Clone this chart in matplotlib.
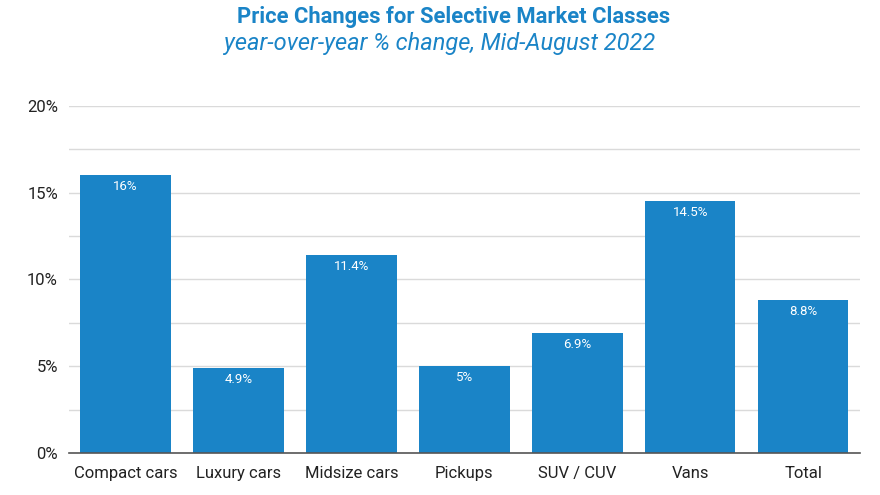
import matplotlib
matplotlib.use("Agg")
import matplotlib.pyplot as plt
from matplotlib.ticker import MultipleLocator, FuncFormatter

categories = ["Compact cars", "Luxury cars", "Midsize cars", "Pickups", "SUV / CUV", "Vans", "Total"]
values = [16, 4.9, 11.4, 5, 6.9, 14.5, 8.8]
labels = ["16%", "4.9%", "11.4%", "5%", "6.9%", "14.5%", "8.8%"]

plt.rcParams['font.family'] = ['Roboto', 'DejaVu Sans']
blue = "#1a84c7"

fig = plt.figure(figsize=(8.8, 4.95), dpi=100)
ax = fig.add_axes([0.0784, 0.0848, 0.977 - 0.0784, 0.786 - 0.0848])

x = list(range(len(categories)))
bars = ax.bar(x, values, width=0.8, color=blue, zorder=3)
for xi, v, lab in zip(x, values, labels):
    ax.annotate(lab, (xi, v), xytext=(0, -3.5), textcoords="offset points",
                ha="center", va="top", color="white", fontsize=9.5, zorder=4)

ax.set_xlim(-0.5, len(categories) - 0.5)
ax.set_ylim(0, 20)
ax.yaxis.set_major_locator(MultipleLocator(5))
ax.yaxis.set_minor_locator(MultipleLocator(2.5))
ax.yaxis.set_major_formatter(FuncFormatter(lambda v, p: f"{v:.0f}%"))
ax.grid(axis="y", which="both", color="#dadada", linewidth=1, zorder=0)
ax.set_xticks(x)
ax.set_xticklabels(categories)
ax.tick_params(axis="both", which="both", length=0, labelsize=12, colors="#222222")
ax.tick_params(axis="x", pad=9)
ax.tick_params(axis="y", pad=8)
for s in ["top", "right", "left"]:
    ax.spines[s].set_visible(False)
ax.spines["bottom"].set_color("#555555")
ax.spines["bottom"].set_linewidth(1.2)
ax.spines["bottom"].set_zorder(5)

fig.text(0.515, 0.966, "Price Changes for Selective Market Classes", ha="center", va="center",
         color=blue, fontsize=15.8, fontweight="bold")
fig.text(0.5, 0.913, "year-over-year % change, Mid-August 2022", ha="center", va="center",
         color=blue, fontsize=17, fontstyle="italic")

fig.savefig("out.png", dpi=100)
